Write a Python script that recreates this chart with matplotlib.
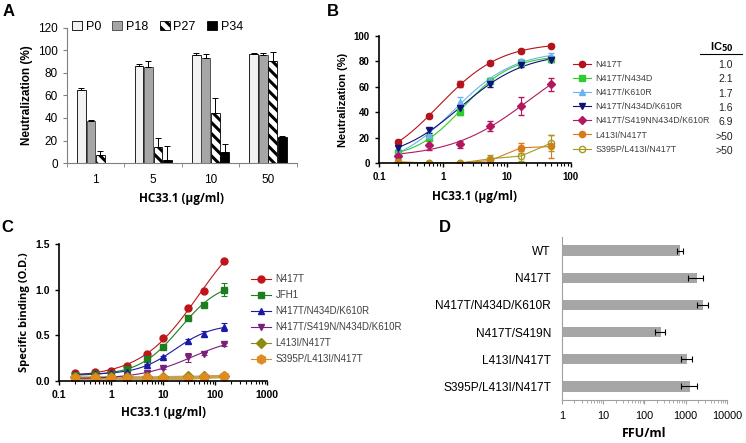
import numpy as np
import matplotlib
matplotlib.use("Agg")
import matplotlib.pyplot as plt
from matplotlib.patches import Patch
from matplotlib.lines import Line2D

plt.rcParams['font.family'] = ['Liberation Sans', 'DejaVu Sans']
plt.rcParams['hatch.linewidth'] = 2.2

# ---------------- data ----------------
# panel A
a_conc = ["1", "5", "10", "50"]
a_series = ["P0", "P18", "P27", "P34"]
a_p0 = [65, 86, 96, 97]
a_p0_err = [2, 2, 2, 1]
a_p18 = [37, 85, 93, 96]
a_p18_err = [1, 6, 4, 2]
a_p27 = [7, 14, 44, 91]
a_p27_err = [4, 8, 14, 8]
a_p34 = [0, 3, 10, 23]
a_p34_err = [0, 12, 7, 1]

# panel B
b_conc = [0.2, 0.6, 1.85, 5.56, 16.7, 50]
b_names = ["N417T", "N417T/N434D", "N417T/K610R", "N417T/N434D/K610R",
           "N417T/S419NN434D/K610R", "L413I/N417T", "S395P/L413I/N417T"]
b_ic50 = ["1.0", "2.1", "1.7", "1.6", "6.9", ">50", ">50"]
b_n417t = [16.6, 36.7, 62, 78.7, 88, 92.4]
b_n417t_err = [1.5, 1.5, 2.5, 1.5, 1.5, 1]
b_n434d = [8, 19.7, 40.5, 64.5, 79, 82]
b_n434d_err = [2, 2, 2.5, 2, 1.5, 1.5]
b_k610r = [8.7, 22, 48, 65, 80, 84.5]
b_k610r_err = [2, 2, 4, 2, 1.5, 2]
b_triple = [11.8, 25.8, 43, 62, 77, 81]
b_triple_err = [2, 2, 2, 2, 1.5, 1.5]
b_quad = [5.3, 14.2, 14.7, 29, 45, 62]
b_quad_err = [2, 4, 3, 4, 7, 5]
b_l413i = [1, 0, 0, 2, 12, 13]
b_l413i_err = [0, 0, 0, 0, 4, 9]
b_s395p = [0.5, 0, 0, 3.4, 5.5, 15.8]
b_s395p_err = [0, 0, 0, 3, 4, 6]

# panel C
c_conc = [0.2, 0.5, 1, 2, 5, 10, 30, 60, 150]
c_names = ["N417T", "JFH1", "N417T/N434D/K610R", "N417T/S419N/N434D/K610R",
           "L413I/N417T", "S395P/L413I/N417T"]
c_n417t = [0.088, 0.095, 0.11, 0.16, 0.30, 0.466, 0.795, 0.985, 1.32]
c_jfh1 = [0.07, 0.075, 0.08, 0.13, 0.24, 0.37, 0.69, 0.835, 1.0]
c_jfh1_err = [0.01, 0.01, 0.01, 0.01, 0.02, 0.02, 0.02, 0.02, 0.07]
c_triple = [0.08, 0.08, 0.085, 0.10, 0.18, 0.26, 0.44, 0.52, 0.59]
c_triple_err = [0.01, 0.01, 0.01, 0.01, 0.01, 0.01, 0.02, 0.03, 0.04]
c_quad = [0.03, 0.035, 0.04, 0.06, 0.09, 0.14, 0.26, 0.30, 0.40]
c_quad_err = [0.01, 0.01, 0.01, 0.01, 0.01, 0.01, 0.05, 0.02, 0.02]
c_l413i = [0.04, 0.04, 0.045, 0.045, 0.04, 0.045, 0.05, 0.05, 0.06]
c_s395p = [0.03, 0.03, 0.03, 0.03, 0.03, 0.03, 0.03, 0.04, 0.05]

# panel D
d_names = ["WT", "N417T", "N417T/N434D/K610R", "N417T/S419N",
           "L413I/N417T", "S395P/L413I/N417T"]
d_ffu = [730, 1850, 2700, 250, 1100, 1300]
d_err = [110, 720, 800, 70, 320, 550]


def hill_fit(x, y):
    # 4-parameter logistic, grid over ec50/slope, linear solve for bottom/top
    lx = np.log10(np.asarray(x, float))
    y = np.asarray(y, float)
    best = None
    for le in np.arange(-1.5, 3.5, 0.01):
        for h in np.arange(0.4, 3.0, 0.02):
            f = 1.0 / (1.0 + 10 ** ((le - lx) * h))
            A = np.vstack([1 - f, f]).T
            coef, *_ = np.linalg.lstsq(A, y, rcond=None)
            r = np.sum((A @ coef - y) ** 2)
            if best is None or r < best[0]:
                best = (r, le, h, coef)
    _, le, h, (bot, top) = best

    def f(xx):
        return bot + (top - bot) / (1.0 + 10 ** ((le - np.log10(xx)) * h))
    return f


fig = plt.figure(figsize=(7.46, 4.43), dpi=100)

# ---------------- panel A ----------------
axA = fig.add_axes([0.0898, 0.632, 0.308, 0.305])
xA = np.arange(len(a_conc))
w = 0.165
styles = [dict(color="#f2f2f2", edgecolor="black"),
          dict(color="#a6a6a6", edgecolor="#404040"),
          dict(color="white", edgecolor="black", hatch="\\\\\\"),
          dict(color="black", edgecolor="black")]
vals = [a_p0, a_p18, a_p27, a_p34]
errs = [a_p0_err, a_p18_err, a_p27_err, a_p34_err]
for i in range(4):
    axA.bar(xA + (i - 1.5) * w, vals[i], w * 0.92, linewidth=0.6, **styles[i])
    axA.errorbar(xA + (i - 1.5) * w, vals[i], yerr=[np.zeros(4), errs[i]],
                 fmt="none", ecolor="black", elinewidth=0.7, capsize=2.2, capthick=0.7)
axA.set_xlim(-0.5, 3.5)
axA.set_ylim(0, 120)
axA.set_yticks(range(0, 121, 20))
axA.set_xticks(xA)
axA.set_xticklabels(a_conc)
axA.set_xticks(np.arange(-0.5, 4, 1), minor=True)
axA.tick_params(axis="x", which="major", length=0, labelsize=8.5, pad=8)
axA.tick_params(axis="x", which="minor", length=3, color="#808080")
axA.tick_params(axis="y", labelsize=8.5, length=3, color="#808080")
for s in ["top", "right"]:
    axA.spines[s].set_visible(False)
for s in ["left", "bottom"]:
    axA.spines[s].set_color("#808080")
axA.set_ylabel("Neutralization (%)", fontsize=8.5, fontweight="bold")
axA.set_xlabel("HC33.1 (µg/ml)", fontsize=8.5, fontweight="bold", family="Open Sans")
handles = [Patch(facecolor=s["color"], edgecolor=s["edgecolor"], hatch=s.get("hatch"),
                 linewidth=0.6) for s in styles]
axA.legend(handles, a_series, ncol=4, loc="upper left", bbox_to_anchor=(0.0, 1.09),
           frameon=False, fontsize=9, handlelength=0.8, handleheight=0.8,
           handletextpad=0.3, columnspacing=0.9, borderaxespad=0)

# ---------------- panel B ----------------
axB = fig.add_axes([0.508, 0.632, 0.257, 0.287])
b_vals = [b_n417t, b_n434d, b_k610r, b_triple, b_quad, b_l413i, b_s395p]
b_errs = [b_n417t_err, b_n434d_err, b_k610r_err, b_triple_err, b_quad_err,
          b_l413i_err, b_s395p_err]
b_cols = ["#b5121b", "#2ecc2e", "#6cb4f0", "#10107a", "#b3175f", "#d97a1a", "#a59a1e"]
b_marks = ["o", "s", "^", "v", "D", "o", "o"]
xs = np.logspace(np.log10(0.2), np.log10(50), 200)
b_handles = []
for i in range(7):
    mfc = "none" if i == 6 else b_cols[i]
    ms = 4.5 if b_marks[i] != "D" else 3.8
    if i < 5:
        f = hill_fit(b_conc, b_vals[i])
        axB.plot(xs, f(xs), color=b_cols[i], lw=0.8)
    else:
        axB.plot(b_conc, b_vals[i], color=b_cols[i], lw=0.8)
    axB.errorbar(b_conc, b_vals[i], yerr=b_errs[i], fmt=b_marks[i], color=b_cols[i],
                 mfc=mfc, mec=b_cols[i], ms=ms, elinewidth=0.8, capsize=2, capthick=0.8,
                 mew=1.0)
    b_handles.append(Line2D([], [], color=b_cols[i], marker=b_marks[i], mfc=mfc,
                            ms=ms, lw=0.8))
axB.set_xscale("log")
axB.set_xlim(0.1, 100)
axB.set_ylim(0, 100)
axB.set_yticks(range(0, 101, 20))
axB.set_xticks([0.1, 1, 10, 100])
axB.set_xticklabels(["0.1", "1", "10", "100"])
for s in ["top", "right"]:
    axB.spines[s].set_visible(False)
for s in ["left", "bottom"]:
    axB.spines[s].set_linewidth(1.2)
axB.tick_params(labelsize=7, width=1.0, length=3)
axB.tick_params(which="minor", length=2, width=0.8)
for lab in axB.get_xticklabels() + axB.get_yticklabels():
    lab.set_fontweight("bold")
axB.set_ylabel("Neutralization (%)", fontsize=8, fontweight="bold")
axB.set_xlabel("HC33.1 (µg/ml)", fontsize=8.5, fontweight="bold", family="Open Sans",
               labelpad=6)
axB.legend(b_handles, b_names, loc="upper left", bbox_to_anchor=(0.995, 0.84),
           frameon=False, fontsize=6.4, handlelength=2.0, handletextpad=0.5,
           labelspacing=0.58, borderaxespad=0, labelcolor="#404040")
for i, v in enumerate(b_ic50):
    fig.text(733 / 746, 1 - (65 + i * 14.3) / 443, v, fontsize=7.5, ha="right",
             va="center", color="#222222")
fig.text(722 / 746, 1 - 47 / 443, r"IC$_{\mathbf{50}}$", fontsize=8, fontweight="bold",
         ha="center", va="center")
fig.add_artist(Line2D([700 / 746, 742 / 746], [1 - 54 / 443, 1 - 54 / 443],
                      color="black", lw=0.8))

# ---------------- panel C ----------------
axC = fig.add_axes([0.0791, 0.140, 0.279, 0.309])
c_vals = [c_n417t, c_jfh1, c_triple, c_quad, c_l413i, c_s395p]
c_errs = [np.full(9, 0.01), c_jfh1_err, c_triple_err, c_quad_err,
          np.full(9, 0.01), np.full(9, 0.01)]
c_cols = ["#c0141b", "#1e7d1e", "#1a1aa6", "#7a1f7a", "#8c8c10", "#e08a22"]
c_marks = ["o", "s", "^", "v", "D", "h"]
xs = np.logspace(np.log10(0.2), np.log10(150), 200)
c_handles = []
for i in range(6):
    ms = 5 if i < 5 else 6.5
    if i < 4:
        f = hill_fit(c_conc, c_vals[i])
        axC.plot(xs, f(xs), color=c_cols[i], lw=0.8)
    else:
        axC.plot(c_conc, c_vals[i], color="#c8a050", lw=2.5 if i == 5 else 1.2, zorder=1)
    axC.errorbar(c_conc, c_vals[i], yerr=c_errs[i], fmt=c_marks[i], color=c_cols[i],
                 ms=ms, elinewidth=0.8, capsize=2, capthick=0.8)
    c_handles.append(Line2D([], [], color=c_cols[i], marker=c_marks[i], ms=ms, lw=0.8))
axC.set_xscale("log")
axC.set_xlim(0.1, 1000)
axC.set_ylim(0, 1.5)
axC.set_yticks([0, 0.5, 1.0, 1.5])
axC.set_yticklabels(["0.0", "0.5", "1.0", "1.5"])
axC.set_xticks([0.1, 1, 10, 100, 1000])
axC.set_xticklabels(["0.1", "1", "10", "100", "1000"])
for s in ["top", "right"]:
    axC.spines[s].set_visible(False)
for s in ["left", "bottom"]:
    axC.spines[s].set_linewidth(1.2)
axC.tick_params(labelsize=7.5, width=1.0, length=3)
axC.tick_params(which="minor", length=2, width=0.8)
for lab in axC.get_xticklabels() + axC.get_yticklabels():
    lab.set_fontweight("bold")
axC.set_ylabel("Specific binding (O.D.)", fontsize=8, fontweight="bold", family="Open Sans")
axC.set_xlabel("HC33.1 (µg/ml)", fontsize=8.5, fontweight="bold", family="Open Sans")
axC.legend(c_handles, c_names, loc="upper left", bbox_to_anchor=(0.905, 0.81),
           frameon=False, fontsize=7, handlelength=2.0, handletextpad=0.5,
           labelspacing=0.62, borderaxespad=0, labelcolor="#404040")

# ---------------- panel D ----------------
axD = fig.add_axes([0.7534, 0.097, 0.221, 0.368])
yD = np.arange(len(d_names))
axD.barh(yD, d_ffu, height=0.38, color="#a6a6a6", left=1)
axD.errorbar(d_ffu, yD, xerr=d_err, fmt="none", ecolor="black", elinewidth=0.8,
             capsize=2.5, capthick=0.8)
axD.set_xscale("log")
axD.set_xlim(1, 10000)
axD.set_ylim(5.5, -0.5)
axD.set_yticks(yD)
axD.set_yticklabels(d_names)
axD.set_xticks([1, 10, 100, 1000, 10000])
axD.set_xticklabels(["1", "10", "100", "1000", "10000"])
for s in ["top", "right"]:
    axD.spines[s].set_visible(False)
for s in ["left", "bottom"]:
    axD.spines[s].set_color("#a0a0a0")
axD.tick_params(axis="y", length=0, labelsize=8.6, pad=8)
axD.tick_params(axis="x", labelsize=7.8, length=3, color="#a0a0a0", pad=5)
axD.tick_params(axis="x", which="minor", length=2, color="#a0a0a0")
axD.set_xlabel("FFU/ml", fontsize=9, fontweight="bold", family="Open Sans")

# panel letters
for lab, (px, py) in zip("ABCD", [(9, 11), (333, 11), (7, 228), (445, 228)]):
    fig.text(px / 746, 1 - py / 443, lab, fontsize=12, fontweight="bold",
             ha="center", va="center")

fig.savefig("out.png", dpi=100)
